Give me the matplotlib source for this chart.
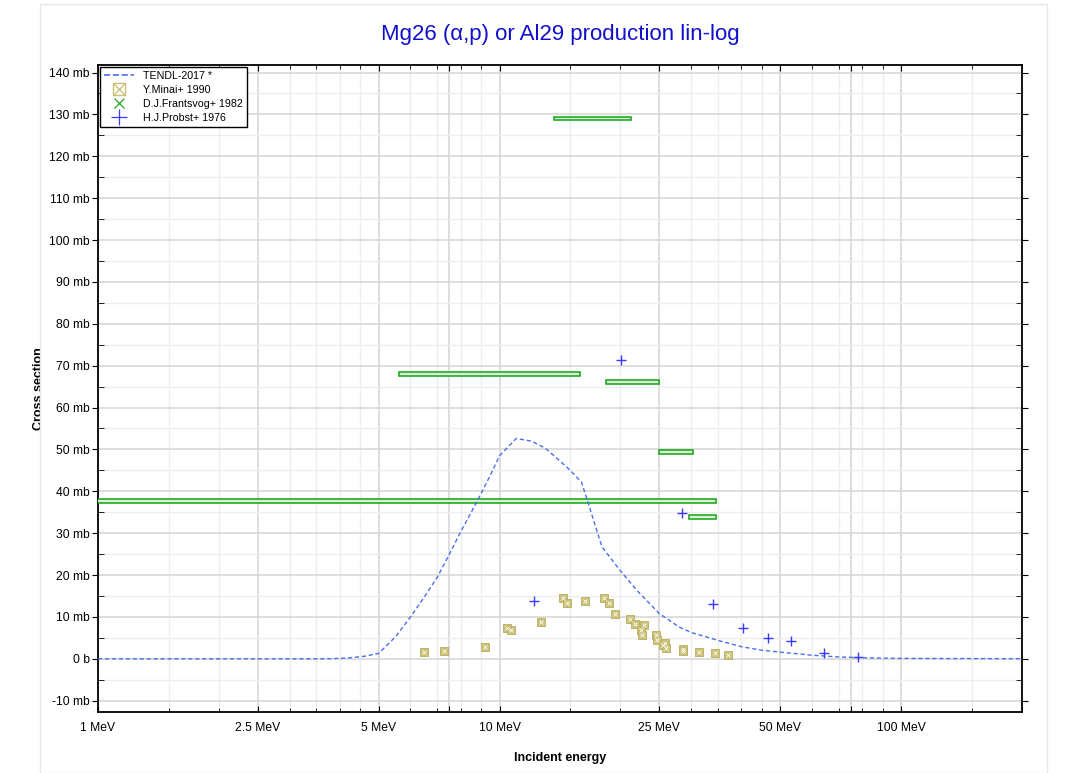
import numpy as np
import matplotlib
matplotlib.use("Agg")
import matplotlib.pyplot as plt
from matplotlib.lines import Line2D
from matplotlib.patches import Rectangle
from matplotlib.legend_handler import HandlerTuple
from matplotlib.ticker import FixedLocator, NullFormatter, FixedFormatter

plt.rcParams["font.family"] = ["Liberation Sans", "DejaVu Sans"]

# ---------------------------------------------------------------- datos
# TENDL-2017 (curva evaluada)
E_tendl = [1.0, 2.0, 3.0, 3.8, 4.2, 4.6, 5.0, 5.5, 6.0, 6.5, 7.0, 7.5, 8.0, 8.5,
           9.0, 9.5, 10.0, 11.0, 12.0, 13.0, 14.0, 15.0, 16.0, 18.0, 20.0, 22.0,
           25.0, 28.0, 30.0, 35.0, 40.0, 45.0, 50.0, 60.0, 70.0, 80.0, 100.0,
           150.0, 200.0]
s_tendl = [0.0, 0.0, 0.0, 0.02, 0.2, 0.6, 1.3, 5.2, 10.0, 14.8, 19.5, 25.0, 30.3,
           35.0, 39.5, 44.0, 48.5, 52.6, 52.0, 50.3, 47.6, 45.0, 42.2, 26.7, 21.0,
           16.3, 10.8, 7.6, 6.3, 4.4, 2.9, 2.05, 1.6, 0.85, 0.45, 0.25, 0.1,
           0.05, 0.03]

# Y.Minai+ 1990
E_minai = [6.5, 7.27, 9.2, 10.45, 10.7, 12.7, 14.4, 14.7, 16.3, 18.2, 18.7, 19.4,
           21.1, 21.7, 22.9, 22.5, 22.6, 24.5, 24.7, 25.8, 25.5, 26.0, 28.6, 28.7,
           31.3, 34.4, 37.1]
s_minai = [1.6, 1.75, 2.8, 7.3, 6.8, 8.8, 14.5, 13.4, 13.9, 14.5, 13.4, 10.6,
           9.4, 8.3, 8.0, 6.8, 5.6, 5.6, 4.4, 3.7, 3.3, 2.6, 2.3, 1.75,
           1.6, 1.3, 0.95]

# D.J.Frantsvog+ 1982 (rangos de energia)
E_lo_fr = [0.5, 5.61, 13.7, 18.4, 25.0, 29.7]
E_hi_fr = [34.6, 15.9, 21.3, 25.0, 30.3, 34.6]
s_fr = [37.7, 68.0, 129.1, 66.1, 49.4, 33.9]
ds_fr = [0.45, 0.5, 0.4, 0.45, 0.45, 0.5]

# H.J.Probst+ 1976
E_probst = [12.2, 20.1, 28.5, 34.0, 40.3, 46.7, 53.3, 64.3, 77.9]
s_probst = [13.9, 71.4, 34.9, 13.05, 7.3, 4.9, 4.3, 1.5, 0.55]

x_major = [1, 2.5, 5, 7.5, 10, 25, 50, 75, 100]
x_labels = ["1 MeV", "2.5 MeV", "5 MeV", "", "10 MeV", "25 MeV", "50 MeV", "", "100 MeV"]
x_minor = [1.5, 2, 3, 3.5, 4, 4.5, 6, 7, 8, 9, 15, 20, 30, 35, 40, 45,
           60, 70, 80, 90, 150, 200]

# --------------------------------------------------------------- figura
fig = plt.figure(figsize=(10.71, 7.73), dpi=100)
fig.patches.append(Rectangle((40/1071, 0), 1007/1071, 769/773, transform=fig.transFigure,
                             fill=False, edgecolor="#e8e8e8", lw=1))
ax = fig.add_axes([98/1071, 1 - 712/773, 924/1071, 647/773])

ax.set_xscale("log")
ax.set_xlim(1, 200)
ax.set_ylim(-12.7, 141.8)

# grillas
ax.xaxis.set_major_locator(FixedLocator(x_major))
ax.xaxis.set_major_formatter(FixedFormatter(x_labels))
ax.xaxis.set_minor_locator(FixedLocator(x_minor))
ax.xaxis.set_minor_formatter(NullFormatter())
yt = np.arange(-10, 141, 10)
ax.set_yticks(yt)
ax.set_yticklabels([("0 b" if v == 0 else f"{v} mb") for v in yt])
ax.set_yticks(np.arange(-10, 141, 5), minor=True)
ax.grid(which="major", color="#d4d4d4", lw=1.1)
ax.grid(which="minor", color="#eeeeee", lw=1.0)
ax.set_axisbelow(True)

ax.tick_params(axis="y", which="major", direction="out", length=4, labelsize=8.7,
               right=True, pad=2)
ax.tick_params(axis="y", which="minor", direction="in", length=4, right=True)
ax.tick_params(axis="x", which="major", direction="in", length=4, labelsize=8.7,
               pad=7, top=True)
ax.tick_params(axis="x", which="minor", direction="in", length=3, top=True)
for sp in ax.spines.values():
    sp.set_linewidth(1.3)

# Frantsvog: cajas de rango de energia
ax.barh(s_fr, np.array(E_hi_fr) - np.array(E_lo_fr), left=E_lo_fr,
        height=2*np.array(ds_fr), color="#d8f2d8", edgecolor="#22aa22",
        lw=1.2, zorder=3)

# TENDL
ax.plot(E_tendl, s_tendl, ls=(0, (3, 2)), color="#4a6ef0", lw=1.0, zorder=4)

# Minai
ax.scatter(E_minai, s_minai, marker="s", s=30, color="#cbc27a",
           edgecolors="#b9ae5c", lw=0.6, zorder=5)
ax.scatter(E_minai, s_minai, marker="x", s=8, color="white", lw=0.6, zorder=6)

# Probst
ax.plot(E_probst, s_probst, ls="none", marker="+", ms=7, mew=1.0,
        color="#3a3aff", zorder=6)

ax.set_title("Mg26 (α,p) or Al29 production lin-log", color="#1010cc",
             fontsize=16, pad=18)
ax.set_xlabel("Incident energy", fontsize=9, fontweight="bold", labelpad=13)
ax.set_ylabel("Cross section", fontsize=9, fontweight="bold", labelpad=3)

minai_box = Line2D([], [], ls="none", marker="s", ms=9, mfc="none", mec="#c9bf72", mew=1.0)
minai_x = Line2D([], [], ls="none", marker="x", ms=8, mew=0.9, color="#c9bf72")
handles = [
    Line2D([], [], ls="--", color="#4a6ef0", lw=1.2),
    (minai_box, minai_x),
    Line2D([], [], ls="none", marker="x", ms=7, mew=0.9, color="#22aa22"),
    Line2D([], [], ls="none", marker="+", ms=11, mew=0.9, color="#3a3aff"),
]
names = ["TENDL-2017 *", "Y.Minai+ 1990", "D.J.Frantsvog+ 1982", "H.J.Probst+ 1976"]
leg = ax.legend(handles, names, loc="upper left", fontsize=7.7, fancybox=False,
                edgecolor="black", framealpha=1, borderaxespad=0.15,
                handlelength=2.8, handletextpad=0.9, labelspacing=0.38,
                borderpad=0.4, handler_map={tuple: HandlerTuple(ndivide=1)})
leg.get_frame().set_linewidth(1.0)

fig.savefig("out.png", dpi=100)
